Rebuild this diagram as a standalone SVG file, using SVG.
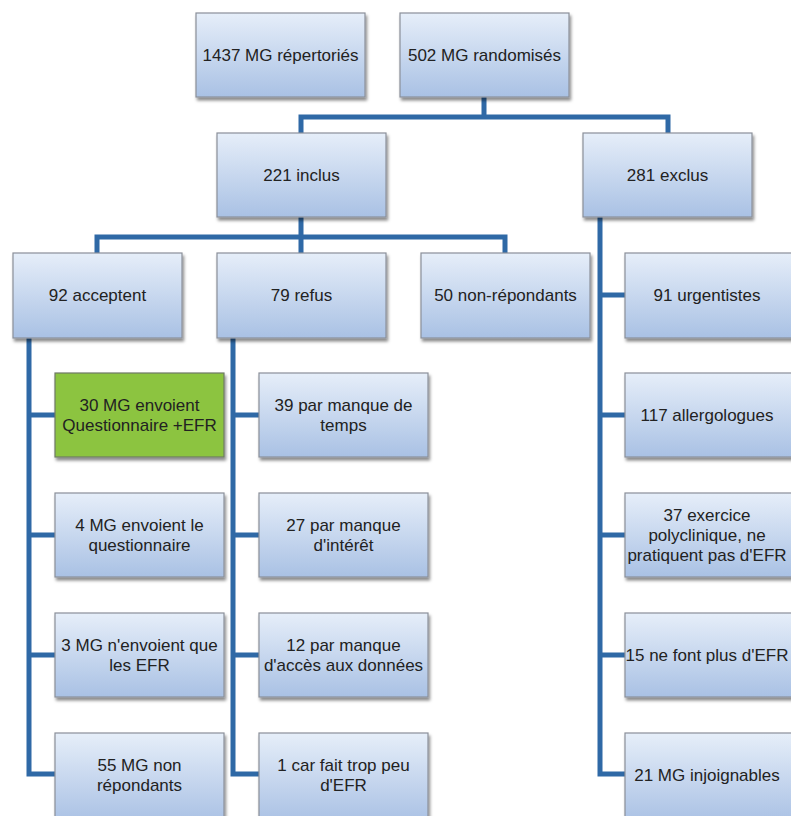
<svg xmlns="http://www.w3.org/2000/svg" width="791" height="816" viewBox="0 0 791 816">
<defs>
<linearGradient id="bg" x1="0" y1="0" x2="0" y2="1">
<stop offset="0" stop-color="#e6eef9"/>
<stop offset="1" stop-color="#a9c1e4"/>
</linearGradient>
<filter id="sh" x="-10%" y="-10%" width="130%" height="140%">
<feDropShadow dx="1.5" dy="3" stdDeviation="1.8" flood-color="#000" flood-opacity="0.45"/>
</filter>
</defs>
<style>
.b{fill:url(#bg);stroke:#8a8f99;stroke-width:1.2;filter:url(#sh)}
.g{fill:#8cc43f;stroke:#6f7a66;stroke-width:1.2;filter:url(#sh)}
.t{font-family:"Liberation Sans",Arial,sans-serif;font-size:17px;fill:#222;text-anchor:middle}
.c{fill:none;stroke:#2f69a6;stroke-width:5;stroke-linejoin:miter}
</style>
<rect width="791" height="816" fill="#fff"/>
<g id="connectors">
<path class="c" d="M484 97V117M301 133V117H668V133"/>
<path class="c" d="M301 217V237M97 253V237H505V253M301 237V253"/>
<path class="c" d="M29 338V774H55M29 415H55M29 535H55M29 655H55"/>
<path class="c" d="M233 338V774H259M233 415H259M233 535H259M233 655H259"/>
<path class="c" d="M600 217V774H625M600 295H625M600 415H625M600 535H625M600 655H625"/>
</g>
<g id="n1"><rect class="b" x="196" y="13" width="169" height="84"/><text class="t" x="280.5" y="61">1437 MG répertoriés</text></g>
<g id="n2"><rect class="b" x="400" y="13" width="169" height="84"/><text class="t" x="484.5" y="61">502 MG randomisés</text></g>
<g id="n3"><rect class="b" x="217" y="133" width="169" height="84"/><text class="t" x="301.5" y="181">221 inclus</text></g>
<g id="n4"><rect class="b" x="583" y="133" width="169" height="84"/><text class="t" x="667.5" y="181">281 exclus</text></g>
<g id="n5"><rect class="b" x="13" y="253" width="169" height="85"/><text class="t" x="97.5" y="301">92 acceptent</text></g>
<g id="n6"><rect class="b" x="217" y="253" width="169" height="85"/><text class="t" x="301.5" y="301">79 refus</text></g>
<g id="n7"><rect class="b" x="421" y="253" width="169" height="85"/><text class="t" x="505.5" y="301">50 non-répondants</text></g>
<g id="n8"><rect class="b" x="625" y="253" width="169" height="85"/><text class="t" x="707" y="301">91 urgentistes</text></g>
<g id="n9"><rect class="g" x="55" y="373" width="169" height="84"/><text class="t" x="139.5" y="411">30 MG envoient</text><text class="t" x="139.5" y="431">Questionnaire +EFR</text></g>
<g id="n10"><rect class="b" x="55" y="493" width="169" height="84"/><text class="t" x="139.5" y="531">4 MG envoient le</text><text class="t" x="139.5" y="551">questionnaire</text></g>
<g id="n11"><rect class="b" x="55" y="613" width="169" height="84"/><text class="t" x="139.5" y="651">3 MG n'envoient que</text><text class="t" x="139.5" y="671">les EFR</text></g>
<g id="n12"><rect class="b" x="55" y="733" width="169" height="90"/><text class="t" x="139.5" y="771">55 MG non</text><text class="t" x="139.5" y="791">répondants</text></g>
<g id="n13"><rect class="b" x="259" y="373" width="169" height="84"/><text class="t" x="343.5" y="411">39 par manque de</text><text class="t" x="343.5" y="431">temps</text></g>
<g id="n14"><rect class="b" x="259" y="493" width="169" height="84"/><text class="t" x="343.5" y="531">27 par manque</text><text class="t" x="343.5" y="551">d'intérêt</text></g>
<g id="n15"><rect class="b" x="259" y="613" width="169" height="84"/><text class="t" x="343.5" y="651">12 par manque</text><text class="t" x="343.5" y="671">d'accès aux données</text></g>
<g id="n16"><rect class="b" x="259" y="733" width="169" height="90"/><text class="t" x="343.5" y="771">1 car fait trop peu</text><text class="t" x="343.5" y="791">d'EFR</text></g>
<g id="n17"><rect class="b" x="625" y="373" width="169" height="84"/><text class="t" x="707" y="421">117 allergologues</text></g>
<g id="n18"><rect class="b" x="625" y="493" width="169" height="84"/><text class="t" x="707" y="521">37 exercice</text><text class="t" x="707" y="541">polyclinique, ne</text><text class="t" x="707" y="561">pratiquent pas d'EFR</text></g>
<g id="n19"><rect class="b" x="625" y="613" width="169" height="84"/><text class="t" x="707" y="661">15 ne font plus d'EFR</text></g>
<g id="n20"><rect class="b" x="625" y="733" width="169" height="90"/><text class="t" x="707" y="781">21 MG injoignables</text></g>
</svg>
